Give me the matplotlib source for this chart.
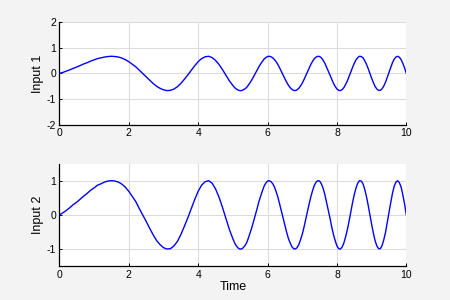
import matplotlib
matplotlib.use('Agg')
import matplotlib.pyplot as plt

# time samples (s)
time = [0, 0.1, 0.2, 0.3, 0.4, 0.5, 0.6, 0.7, 0.8, 0.9,
        1.0, 1.1, 1.2, 1.3, 1.4, 1.5, 1.6, 1.7, 1.8, 1.9,
        2.0, 2.1, 2.2, 2.3, 2.4, 2.5, 2.6, 2.7, 2.8, 2.9,
        3.0, 3.1, 3.2, 3.3, 3.4, 3.5, 3.6, 3.7, 3.8, 3.9,
        4.0, 4.1, 4.2, 4.3, 4.4, 4.5, 4.6, 4.7, 4.8, 4.9,
        5.0, 5.05, 5.1, 5.15, 5.2, 5.25, 5.3, 5.35, 5.4, 5.45,
        5.5, 5.55, 5.6, 5.65, 5.7, 5.75, 5.8, 5.85, 5.9, 5.95,
        6.0, 6.05, 6.1, 6.15, 6.2, 6.25, 6.3, 6.35, 6.4, 6.45,
        6.5, 6.55, 6.6, 6.65, 6.7, 6.75, 6.8, 6.85, 6.9, 6.95,
        7.0, 7.05, 7.1, 7.15, 7.2, 7.25, 7.3, 7.35, 7.4, 7.45,
        7.5, 7.55, 7.6, 7.65, 7.7, 7.75, 7.8, 7.85, 7.9, 7.95,
        8.0, 8.05, 8.1, 8.15, 8.2, 8.25, 8.3, 8.35, 8.4, 8.45,
        8.5, 8.55, 8.6, 8.65, 8.7, 8.75, 8.8, 8.85, 8.9, 8.95,
        9.0, 9.05, 9.1, 9.15, 9.2, 9.25, 9.3, 9.35, 9.4, 9.45,
        9.5, 9.55, 9.6, 9.65, 9.7, 9.75, 9.8, 9.85, 9.9, 9.95,
        10.0]

input1 = [0.00, 0.04, 0.09, 0.14, 0.20, 0.25, 0.31, 0.37, 0.42, 0.48,
          0.53, 0.58, 0.61, 0.64, 0.66, 0.67, 0.66, 0.64, 0.60, 0.54,
          0.46, 0.36, 0.26, 0.13, 0.00, -0.13, -0.26, -0.39, -0.50, -0.58,
          -0.64, -0.67, -0.66, -0.61, -0.52, -0.39, -0.23, -0.06, 0.12, 0.30,
          0.46, 0.58, 0.65, 0.67, 0.62, 0.51, 0.35, 0.15, -0.07, -0.29,
          -0.47, -0.55, -0.61, -0.65, -0.67, -0.67, -0.64, -0.60, -0.54, -0.45,
          -0.35, -0.24, -0.12, 0.01, 0.13, 0.26, 0.37, 0.47, 0.56, 0.62,
          0.66, 0.67, 0.65, 0.61, 0.54, 0.45, 0.34, 0.21, 0.07, -0.07,
          -0.21, -0.34, -0.46, -0.55, -0.62, -0.66, -0.67, -0.64, -0.58, -0.49,
          -0.38, -0.24, -0.09, 0.07, 0.22, 0.36, 0.48, 0.58, 0.64, 0.67,
          0.66, 0.61, 0.52, 0.40, 0.25, 0.09, -0.07, -0.24, -0.39, -0.51,
          -0.61, -0.66, -0.67, -0.63, -0.55, -0.43, -0.29, -0.12, 0.06, 0.24,
          0.40, 0.53, 0.62, 0.67, 0.66, 0.61, 0.50, 0.36, 0.19, 0.00,
          -0.19, -0.36, -0.51, -0.61, -0.66, -0.66, -0.60, -0.49, -0.34, -0.15,
          0.05, 0.24, 0.42, 0.56, 0.64, 0.67, 0.63, 0.54, 0.39, 0.21,
          0.00]

input2 = [0.00, 0.06, 0.13, 0.21, 0.30, 0.37, 0.46, 0.55, 0.63, 0.72,
          0.79, 0.87, 0.91, 0.96, 0.99, 1.00, 0.99, 0.96, 0.90, 0.81,
          0.69, 0.54, 0.39, 0.19, 0.00, -0.19, -0.39, -0.58, -0.75, -0.87,
          -0.96, -1.00, -0.99, -0.91, -0.78, -0.58, -0.34, -0.09, 0.18, 0.45,
          0.69, 0.87, 0.97, 1.00, 0.93, 0.76, 0.52, 0.22, -0.10, -0.43,
          -0.70, -0.82, -0.91, -0.97, -1.00, -1.00, -0.96, -0.90, -0.81, -0.67,
          -0.52, -0.36, -0.18, 0.01, 0.19, 0.39, 0.55, 0.70, 0.84, 0.93,
          0.99, 1.00, 0.97, 0.91, 0.81, 0.67, 0.51, 0.31, 0.10, -0.10,
          -0.31, -0.51, -0.69, -0.82, -0.93, -0.99, -1.00, -0.96, -0.87, -0.73,
          -0.57, -0.36, -0.13, 0.10, 0.33, 0.54, 0.72, 0.87, 0.96, 1.00,
          0.99, 0.91, 0.78, 0.60, 0.37, 0.13, -0.10, -0.36, -0.58, -0.76,
          -0.91, -0.99, -1.00, -0.94, -0.82, -0.64, -0.43, -0.18, 0.09, 0.36,
          0.60, 0.79, 0.93, 1.00, 0.99, 0.91, 0.75, 0.54, 0.28, 0.00,
          -0.28, -0.54, -0.76, -0.91, -0.99, -0.99, -0.90, -0.73, -0.51, -0.22,
          0.07, 0.36, 0.63, 0.84, 0.96, 1.00, 0.94, 0.81, 0.58, 0.31,
          0.00]

xticks = [0, 2, 4, 6, 8, 10]
yticks1 = [-2, -1, 0, 1, 2]
yticks2 = [-1, 0, 1]

plt.rcParams['font.family'] = ['Liberation Sans', 'DejaVu Sans']
plt.rcParams['axes.unicode_minus'] = False

fig, (ax1, ax2) = plt.subplots(2, 1, figsize=(4.5, 3), dpi=100)
fig.patch.set_facecolor('#f3f3f3')
fig.subplots_adjust(left=0.132, right=0.903, top=0.926, bottom=0.113, hspace=0.38)

panels = [(ax1, input1, 'Input 1', (-2, 2), yticks1),
          (ax2, input2, 'Input 2', (-1.5, 1.5), yticks2)]
for ax, y, lab, lim, yt in panels:
    ax.plot(time, y, color='#0000ff', lw=1)
    ax.set_xlim(0, 10)
    ax.set_ylim(*lim)
    ax.set_xticks(xticks)
    ax.set_yticks(yt)
    ax.grid(True, color='#dcdcdc', lw=0.8)
    ax.set_axisbelow(True)
    ax.set_ylabel(lab, fontsize=9, labelpad=2)
    ax.tick_params(direction='in', length=2.5, width=0.7, labelsize=7.5, pad=2.5)
    for s in ['top', 'right']:
        ax.spines[s].set_visible(False)
    for s in ['left', 'bottom']:
        ax.spines[s].set_linewidth(0.9)
ax2.set_xlabel('Time', fontsize=9, labelpad=1)

fig.savefig('out.png')
